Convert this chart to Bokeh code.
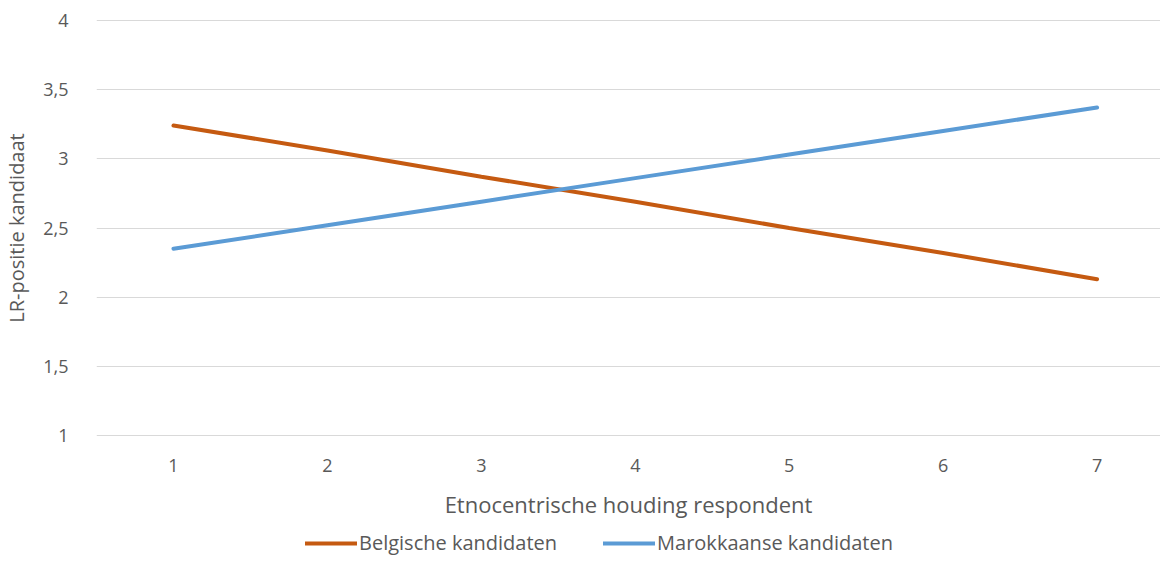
from bokeh.plotting import figure
from bokeh.models import Range1d, FixedTicker, Legend, LegendItem
from bokeh.layouts import column
from bokeh.embed import file_html
from bokeh.resources import INLINE

x_vals = [1, 2, 3, 4, 5, 6, 7]
belgische = [3.24, 3.06, 2.87, 2.69, 2.50, 2.32, 2.13]
marokkaanse = [2.35, 2.52, 2.69, 2.86, 3.03, 3.20, 3.37]
y_ticks = [1, 1.5, 2, 2.5, 3, 3.5, 4]
y_tick_labels = ["1", "1,5", "2", "2,5", "3", "3,5", "4"]
x_title = "Etnocentrische houding respondent"
y_title = "LR-positie kandidaat"
series_names = ["Belgische kandidaten", "Marokkaanse kandidaten"]
colors = ["#C55A11", "#5B9BD5"]

FONT = "Open Sans"
TXT = "#595959"

p = figure(width=1160, height=522, output_backend="svg", toolbar_location=None,
           x_range=Range1d(0.5, 7.412), y_range=Range1d(0.995, 4.005),
           min_border_left=86, min_border_top=19, min_border_right=0, min_border_bottom=86)
p.outline_line_color = None
p.xgrid.visible = False
p.ygrid.ticker = FixedTicker(ticks=y_ticks)
p.ygrid.grid_line_color = "#d9d9d9"
p.ygrid.grid_line_width = 1

p.xaxis.ticker = FixedTicker(ticks=x_vals)
p.yaxis.ticker = FixedTicker(ticks=y_ticks)
p.yaxis.major_label_overrides = {t: l for t, l in zip(y_ticks, y_tick_labels)}
for ax in (p.xaxis, p.yaxis):
    ax.axis_line_color = None
    ax.major_tick_line_color = None
    ax.minor_tick_line_color = None
    ax.major_label_text_font = FONT
    ax.major_label_text_font_size = "18px"
    ax.major_label_text_color = TXT
    ax.axis_label_text_font = FONT
    ax.axis_label_text_font_size = "20px"
    ax.axis_label_text_font_style = "normal"
    ax.axis_label_text_color = TXT
p.xaxis.axis_label = x_title
p.xaxis.axis_label_text_font_size = "22px"
p.yaxis.axis_label = y_title
p.xaxis.major_label_standoff = 16
p.xaxis.axis_label_standoff = 14
p.yaxis.major_label_standoff = 22
p.yaxis.axis_label_standoff = 10

p.line(x_vals, belgische, line_color=colors[0], line_width=4, line_cap="round")
p.line(x_vals, marokkaanse, line_color=colors[1], line_width=4, line_cap="round")

# legend strip below the chart (its frame is aligned with the chart's frame)
lg = figure(width=1160, height=34, output_backend="svg", toolbar_location=None,
            x_range=Range1d(0.5, 7.412), y_range=Range1d(0, 1),
            x_axis_location=None, y_axis_location=None,
            min_border_left=0, min_border_top=0, min_border_right=0, min_border_bottom=0)
lg.outline_line_color = None
lg.grid.visible = False
h1 = lg.line(x_vals, belgische, line_color=colors[0], line_width=4, line_cap="round", visible=False)
h2 = lg.line(x_vals, marokkaanse, line_color=colors[1], line_width=4, line_cap="round", visible=False)

legend = Legend(items=[LegendItem(label=series_names[0], renderers=[h1]),
                       LegendItem(label=series_names[1], renderers=[h2])],
                orientation="horizontal", location=(209, 0),
                glyph_width=52, glyph_height=16, label_standoff=2, spacing=46,
                label_text_font=FONT, label_text_font_size="20px", label_text_color=TXT,
                border_line_color=None, background_fill_alpha=0,
                inactive_fill_alpha=0, margin=0, padding=0)
lg.add_layout(legend, "center")

open("out.html", "w").write(file_html(column(p, lg), INLINE))
